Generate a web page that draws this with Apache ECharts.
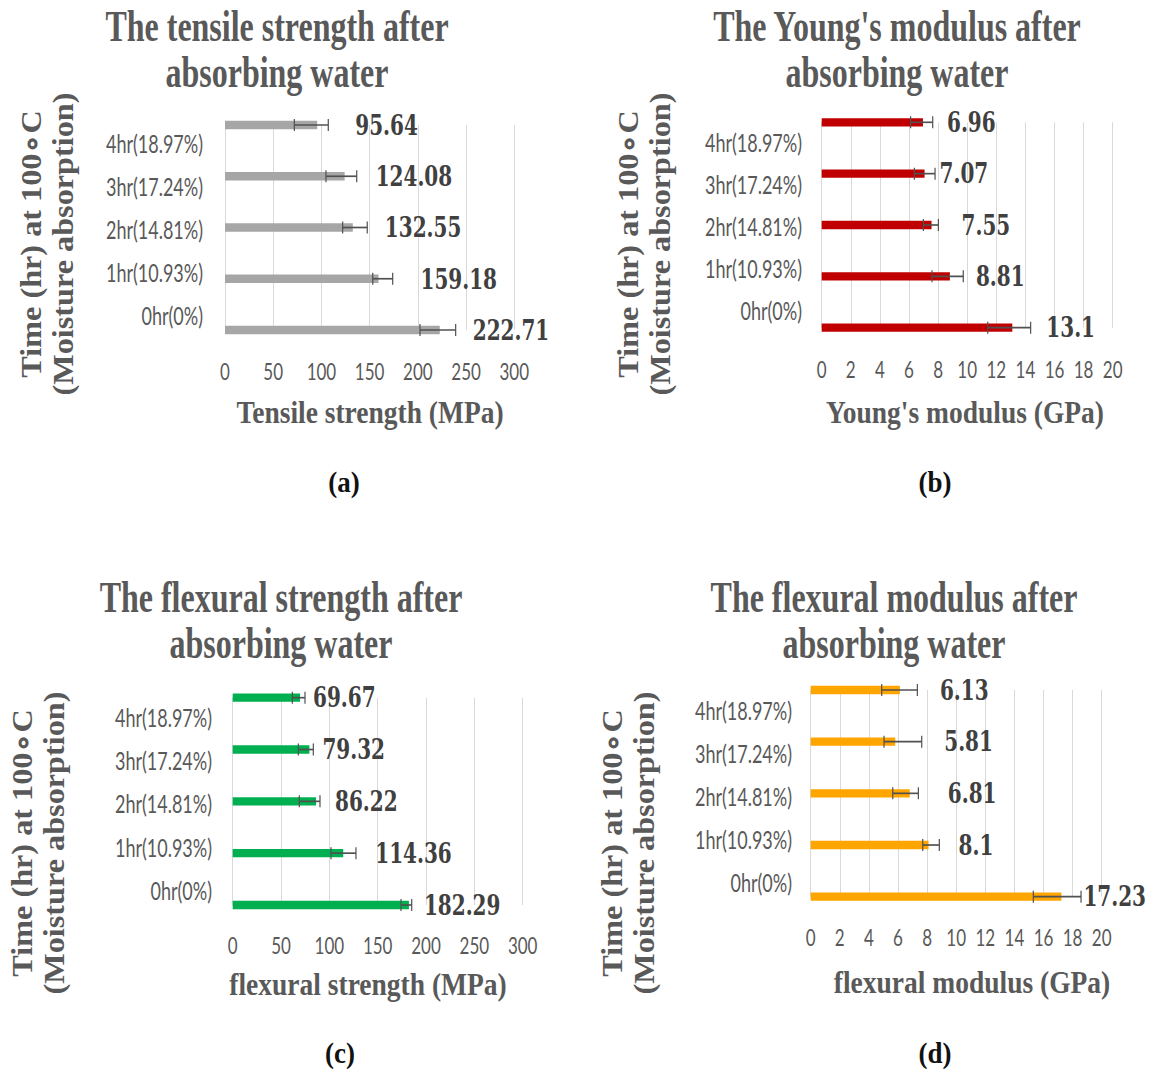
<!DOCTYPE html>
<html><head><meta charset="utf-8">
<script src="https://cdn.jsdelivr.net/npm/echarts@6/dist/echarts.min.js"></script>
<style>
html,body{margin:0;padding:0;background:#fff}
#wrap{width:1152px;height:1070px;overflow:hidden;background:#fff}
#chart{width:1152px;height:770px;transform:scaleY(1.38961);transform-origin:0 0}
</style>
</head><body><div id="wrap"><div id="chart"></div></div>
<script>
// ---- data (bottom to top: 0hr ... 4hr) ----
const categories = ['0hr(0%)','1hr(10.93%)','2hr(14.81%)','3hr(17.24%)','4hr(18.97%)'];

const tensileValues  = [222.71, 159.18, 132.55, 124.08, 95.64];
const tensileErrLow  = [202.2, 153.2, 122.0, 104.7, 71.9];
const tensileErrHigh = [239.2, 173.9, 147.5, 136.6, 107.1];

const youngValues  = [13.1, 8.81, 7.55, 7.07, 6.96];
const youngErrLow  = [11.41, 7.58, 6.99, 6.37, 6.11];
const youngErrHigh = [14.36, 9.73, 8.02, 7.79, 7.63];

const flexStrValues  = [182.29, 114.36, 86.22, 79.32, 69.67];
const flexStrErrLow  = [174.1, 101.7, 68.9, 67.9, 61.7];
const flexStrErrHigh = [185.2, 127.5, 90.3, 83.4, 74.8];

const flexModValues  = [17.23, 8.1, 6.81, 5.81, 6.13];
const flexModErrLow  = [15.30, 7.70, 5.64, 5.04, 4.88];
const flexModErrHigh = [18.58, 8.84, 7.40, 7.63, 7.33];

const strengthTicks = [0, 50, 100, 150, 200, 250, 300];
const modulusTicks  = [0, 2, 4, 6, 8, 10, 12, 14, 16, 18, 20];

const yAxisTitle = 'Time (hr) at 100\u2218C\n(Moisture absorption)';

// ---- layout (reference pixel coordinates) ----
const S = 1070 / 770;
const panels = [
  {title:['The tensile strength after', 'absorbing water'], xName:'Tensile strength (MPa)', letter:'(a)',
   values:tensileValues, lo:tensileErrLow, hi:tensileErrHigh, ticks:strengthTicks, color:'#a6a6a6',
   x0:225, x1:514.3, barTop:125, barBot:330, catTop:143, catBot:315, catRight:203, tickY:371,
   titleX:277, titleY:[26, 72], xNameX:370, xNameY:412, yNameX:48, yNameY:244, letterX:344, letterY:482,
   labelGap:[33, 42, 32, 31, 38]},
  {title:["The Young's modulus after", 'absorbing water'], xName:"Young's modulus (GPa)", letter:'(b)',
   values:youngValues, lo:youngErrLow, hi:youngErrHigh, ticks:modulusTicks, color:'#c00000',
   x0:821.7, x1:1112.7, barTop:122.3, barBot:327.7, catTop:142, catBot:310, catRight:802, tickY:369,
   titleX:897, titleY:[26, 72], xNameX:965, xNameY:412, yNameX:644.5, yNameY:244, letterX:935, letterY:482,
   labelGap:[34, 26, 30, 15, 24]},
  {title:['The flexural strength after', 'absorbing water'], xName:'flexural strength (MPa)', letter:'(c)',
   values:flexStrValues, lo:flexStrErrLow, hi:flexStrErrHigh, ticks:strengthTicks, color:'#00b050',
   x0:232.7, x1:522.7, barTop:697.7, barBot:905, catTop:717, catBot:890, catRight:212, tickY:945,
   titleX:281, titleY:[597, 643], xNameX:368, xNameY:984, yNameX:39, yNameY:843, letterX:340, letterY:1053,
   labelGap:[15, 32, 19, 13, 13]},
  {title:['The flexural modulus after', 'absorbing water'], xName:'flexural modulus (GPa)', letter:'(d)',
   values:flexModValues, lo:flexModErrLow, hi:flexModErrHigh, ticks:modulusTicks, color:'#ffa500',
   x0:810.7, x1:1101.7, barTop:690, barBot:896.7, catTop:710, catBot:882, catRight:792, tickY:937,
   titleX:894, titleY:[597, 643], xNameX:972, xNameY:982, yNameX:629, yNameY:843, letterX:935, letterY:1053,
   labelGap:[22, 30, 38, 49, 40]}
];

const GREY = '#595959';
const CAP = 4.3;

function errRender(params, api) {
  const y = api.value(2);
  const p1 = api.coord([api.value(0), y]);
  const p2 = api.coord([api.value(1), y]);
  const st = {stroke:'#505050', lineWidth:1.2};
  return {type:'group', children:[
    {type:'line', shape:{x1:p1[0], y1:p1[1], x2:p2[0], y2:p2[1]}, style:st},
    {type:'line', shape:{x1:p1[0], y1:p1[1]-CAP, x2:p1[0], y2:p1[1]+CAP}, style:st},
    {type:'line', shape:{x1:p2[0], y1:p2[1]-CAP, x2:p2[0], y2:p2[1]+CAP}, style:st}
  ]};
}

function txt(text, x, yRef, size, family, color, extra) {
  extra = extra || {};
  return {type:'text', x:x, y:yRef / S, rotation:extra.rot || 0,
    scaleX:extra.sx || 1, scaleY:extra.sy || 1, silent:true, z:10,
    style:{text:text, fill:color, fontSize:size, fontFamily:family, fontWeight:'bold',
      textAlign:'center', align:'center', textVerticalAlign:'middle', verticalAlign:'middle',
      lineHeight:extra.lh || size}};
}

const option = {animation:false, backgroundColor:'#ffffff', grid:[], xAxis:[], yAxis:[], series:[], graphic:[]};

panels.forEach(p => {
  const gi = option.grid.length;
  const w = p.x1 - p.x0;
  const axMin = p.ticks[0], axMax = p.ticks[p.ticks.length - 1], step = p.ticks[1] - p.ticks[0];
  option.grid.push({left:p.x0, width:w, top:p.barTop / S, height:(p.barBot - p.barTop) / S, containLabel:false, outerBoundsMode:'none'});
  option.grid.push({left:p.x0, width:w, top:p.catTop / S, height:(p.catBot - p.catTop) / S, containLabel:false, outerBoundsMode:'none'});
  option.xAxis.push({gridIndex:gi, type:'value', min:axMin, max:axMax, interval:step,
    axisLine:{show:false}, axisTick:{show:false},
    splitLine:{show:true, lineStyle:{color:'#d9d9d9', width:1}},
    axisLabel:{fontFamily:'Lato', fontSize:17, color:GREY, verticalAlign:'middle', margin:(p.tickY - p.barBot) / S}});
  option.xAxis.push({gridIndex:gi + 1, type:'value', min:axMin, max:axMax, show:false});
  option.yAxis.push({gridIndex:gi, type:'category', data:categories, boundaryGap:false,
    axisLine:{show:true, lineStyle:{color:'#d9d9d9', width:1}}, axisTick:{show:false},
    axisLabel:{show:false}, splitLine:{show:false}});
  option.yAxis.push({gridIndex:gi + 1, type:'category', data:categories, boundaryGap:false,
    axisLine:{show:false}, axisTick:{show:false}, splitLine:{show:false},
    axisLabel:{fontFamily:'Lato', fontSize:18, color:GREY, margin:p.x0 - p.catRight, interval:0}});
  option.series.push({type:'bar', xAxisIndex:gi, yAxisIndex:gi, barWidth:6, z:2,
    itemStyle:{color:p.color},
    label:{show:true, position:'right', formatter:'{c}', fontFamily:'DejaVu Serif', fontWeight:'bold', fontSize:20, color:'#404040'},
    data:p.values.map((v, i) => ({value:v, label:{distance:p.labelGap[i]}}))});
  option.series.push({type:'custom', xAxisIndex:gi, yAxisIndex:gi, z:3, silent:true,
    renderItem:errRender, encode:{x:[0, 1], y:2},
    data:p.lo.map((l, i) => [l, p.hi[i], i])});
  p.title.forEach((line, j) => {
    option.graphic.push(txt(line, p.titleX, p.titleY[j], 32, 'Liberation Serif', GREY));
  });
  option.graphic.push(txt(p.xName, p.xNameX, p.xNameY, 27.5, 'Liberation Serif', GREY, {sy:0.84}));
  option.graphic.push(txt(yAxisTitle, p.yNameX, p.yNameY, 29, 'Liberation Serif', GREY, {rot:Math.PI / 2, lh:32, sx:0.8}));
  option.graphic.push(txt(p.letter, p.letterX, p.letterY, 27, 'Liberation Serif', '#111111', {sy:0.8}));
});

const chart = echarts.init(document.getElementById('chart'), null, {renderer:'svg'});
chart.setOption(option);
</script>
</body></html>
